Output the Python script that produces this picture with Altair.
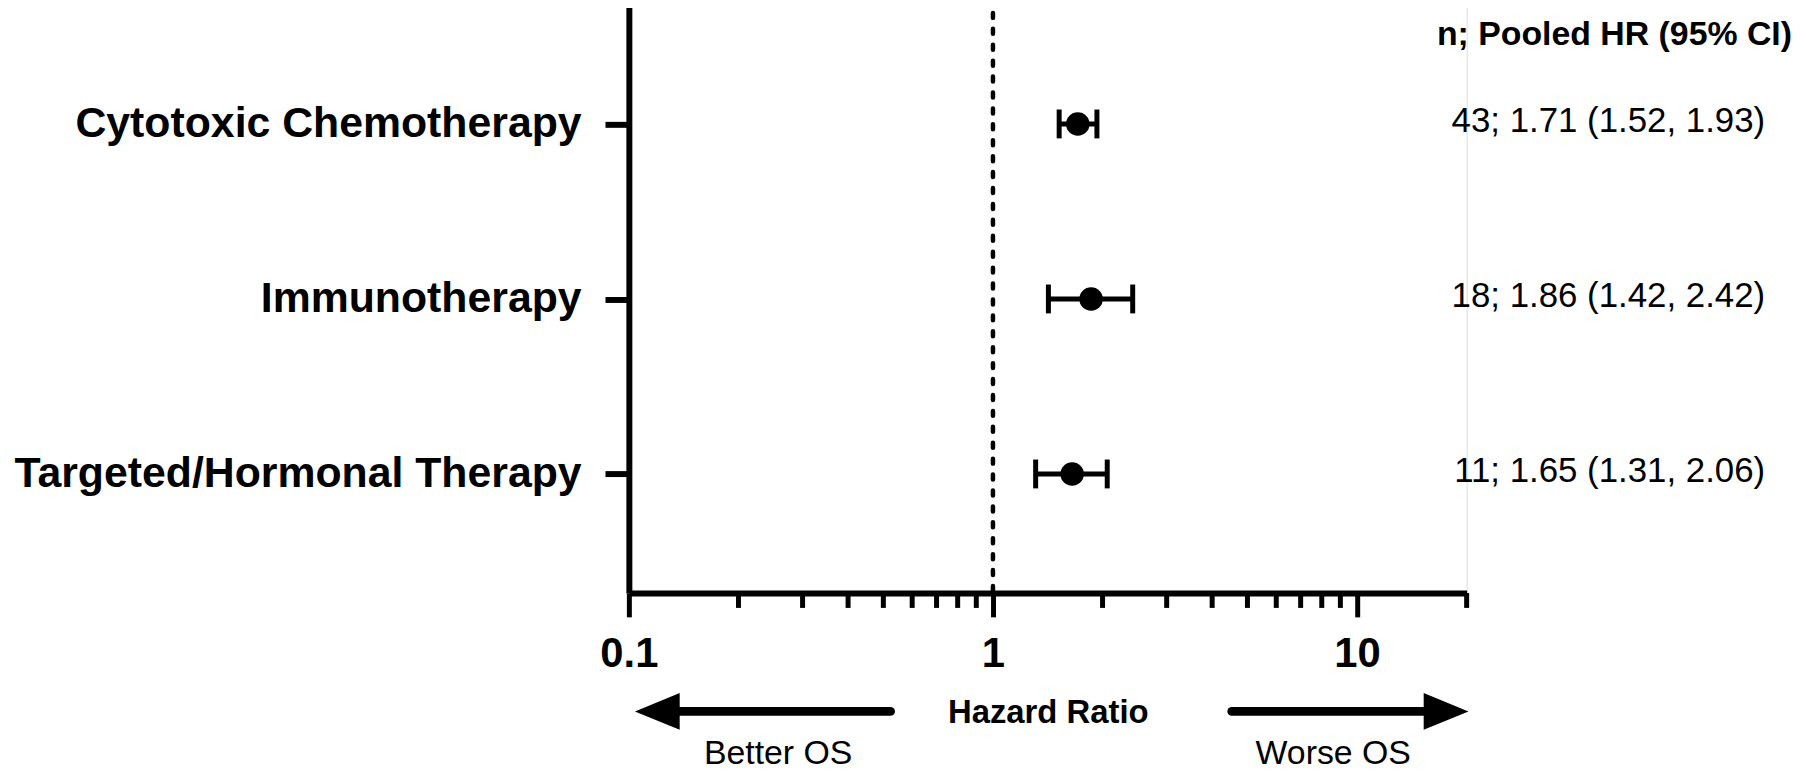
import altair as alt
import pandas as pd

# ---- data ----
categories = ["Cytotoxic Chemotherapy", "Immunotherapy", "Targeted/Hormonal Therapy"]
n_studies = [43, 18, 11]
hr = [1.71, 1.86, 1.65]
ci_lo = [1.52, 1.42, 1.31]
ci_hi = [1.93, 2.42, 2.06]
header_text = ["n; Pooled HR (95% CI)"]

major_ticks = [0.1, 1, 10]
minor_ticks = [0.2, 0.3, 0.4, 0.5, 0.6, 0.7, 0.8, 0.9, 2, 3, 4, 5, 6, 7, 8, 9, 20]
reference_hr = [1]

arrow_shaft_start = [0.13, 4.53]
arrow_shaft_end = [0.523, 15.5]
arrow_head_x = [0.1197, 17.56]
arrow_labels = ["Better OS", "Worse OS"]
arrow_label_x = [0.257, 8.6]

FONT = "Liberation Sans"
W, H = 842, 591

df = pd.DataFrame({
    "cat": categories,
    "n": n_studies,
    "hr": hr,
    "lo": ci_lo,
    "hi": ci_hi,
})
df["label"] = [f"{n}; {h:.2f} ({l:.2f}, {u:.2f})" for n, h, l, u in zip(n_studies, hr, ci_lo, ci_hi)]

xscale = alt.Scale(type="log", domain=[0.1, 20], nice=False)
yscale = alt.Scale(type="point", domain=categories, padding=0.68)

xaxis = alt.Axis(
    values=major_ticks, format="~g", title="Hazard Ratio",
    labelFont=FONT, labelFontSize=42, labelFontWeight="bold", labelColor="black",
    labelPadding=17, labelFlush=False,
    tickSize=24, tickWidth=5, tickColor="black",
    domainWidth=6, domainColor="black", grid=False,
    titleFont=FONT, titleFontSize=33, titleFontWeight="bold", titleColor="black",
    titleY=120, titleBaseline="middle",
)
yaxis = alt.Axis(
    title=None, labelFont=FONT, labelFontSize=43, labelFontWeight="bold",
    labelColor="black", labelPadding=24, labelLimit=0,
    tickSize=24, tickWidth=6, tickColor="black",
    domainWidth=6, domainColor="black", grid=False,
)

base = alt.Chart(df)

bars = base.mark_rule(color="black", strokeWidth=5).encode(
    x=alt.X("lo:Q", scale=xscale, axis=xaxis),
    x2="hi:Q",
    y=alt.Y("cat:N", scale=yscale, axis=yaxis, sort=categories),
)
cap_lo = base.mark_tick(color="black", size=29, thickness=5, opacity=1).encode(
    x=alt.X("lo:Q", scale=xscale), y=alt.Y("cat:N", scale=yscale, sort=categories)
)
cap_hi = base.mark_tick(color="black", size=29, thickness=5, opacity=1).encode(
    x=alt.X("hi:Q", scale=xscale), y=alt.Y("cat:N", scale=yscale, sort=categories)
)
points = base.mark_circle(color="black", size=560, opacity=1).encode(
    x=alt.X("hr:Q", scale=xscale), y=alt.Y("cat:N", scale=yscale, sort=categories)
)
texts = base.mark_text(
    font=FONT, fontSize=35, align="right", baseline="middle", dy=-3, color="black"
).encode(
    x=alt.value(1142), y=alt.Y("cat:N", scale=yscale, sort=categories), text="label:N"
)

header = alt.Chart(pd.DataFrame({"t": header_text})).mark_text(
    font=FONT, fontSize=34, fontWeight="bold", align="right", baseline="alphabetic", color="black"
).encode(x=alt.value(1169), y=alt.value(40), text="t:N")

ref = alt.Chart(pd.DataFrame({"v": reference_hr})).mark_rule(
    color="black", strokeWidth=4.5, strokeDash=[5, 11], strokeCap="round"
).encode(x=alt.X("v:Q", scale=xscale), y=alt.value(8), y2=alt.value(H))

minor = alt.Chart(pd.DataFrame({"m": minor_ticks})).mark_rule(
    color="black", strokeWidth=5
).encode(x=alt.X("m:Q", scale=xscale), y=alt.value(H), y2=alt.value(H + 15))

shafts = alt.Chart(pd.DataFrame({"a": arrow_shaft_start, "b": arrow_shaft_end})).mark_rule(
    color="black", strokeWidth=9, strokeCap="round"
).encode(x=alt.X("a:Q", scale=xscale), x2="b:Q", y=alt.value(H + 119))

heads_df = pd.DataFrame({"x": arrow_head_x, "dir": ["left", "right"]})
head_left = alt.Chart(heads_df.iloc[[0]]).mark_point(
    shape="M -1 0 L 1 -0.82 L 1 0.82 Z", filled=True, size=2025, color="black", opacity=1
).encode(x=alt.X("x:Q", scale=xscale), y=alt.value(H + 119))
head_right = alt.Chart(heads_df.iloc[[1]]).mark_point(
    shape="M 1 0 L -1 -0.82 L -1 0.82 Z", filled=True, size=2025, color="black", opacity=1
).encode(x=alt.X("x:Q", scale=xscale), y=alt.value(H + 119))

arrow_text = alt.Chart(pd.DataFrame({"x": arrow_label_x, "t": arrow_labels})).mark_text(
    font=FONT, fontSize=34, align="center", baseline="alphabetic", color="black"
).encode(x=alt.X("x:Q", scale=xscale), y=alt.value(H + 172), text="t:N")

chart = alt.layer(
    ref, minor, bars, cap_lo, cap_hi, points, texts, header, shafts, head_left, head_right, arrow_text
).properties(
    width=W, height=H, padding={"left": 5, "top": -5, "right": 0, "bottom": 0}
).configure_view(stroke="transparent", strokeWidth=0, strokeOpacity=0).configure(background="white")

chart.save("out.html", embed_options={"renderer": "svg", "actions": False})
